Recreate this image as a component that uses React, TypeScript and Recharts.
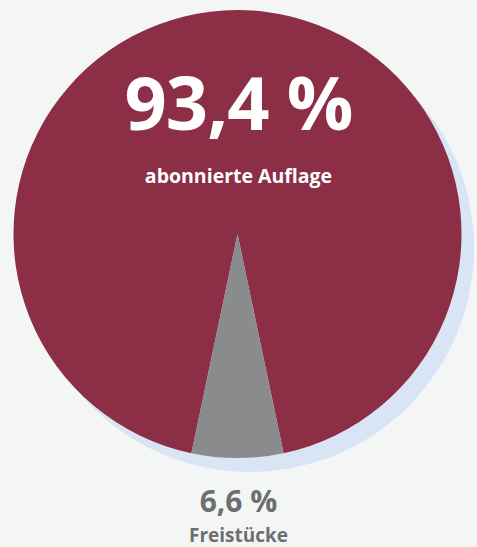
import { PieChart, Pie, Cell } from "recharts"

const categories = ["abonnierte Auflage", "Freistücke"]
const shares = [93.4, 6.6]
const shareLabels = ["93,4 %", "6,6 %"]
const colors = ["#8b2e46", "#8a8b8d"]

const data = categories.map((name, i) => ({ name, value: shares[i] }))
const shadowData = [{ name: "shadow", value: 100 }]

// gray slice centered at the bottom (270deg in recharts angle space)
const halfGray = ((shares[1] / 100) * 360) / 2
const endAngle = 270 + halfGray
const startAngle = endAngle - 360

export default function App() {
  return (
    <div
      style={{
        position: "absolute",
        top: 0,
        left: 0,
        width: 477,
        height: 547,
        background: "#f4f6f6",
        fontFamily: "'Open Sans', sans-serif",
        overflow: "hidden",
      }}
    >
      <PieChart width={477} height={547} margin={{ top: 0, right: 0, bottom: 0, left: 0 }}>
        <Pie
          data={shadowData}
          dataKey="value"
          cx={250}
          cy={248}
          outerRadius={224}
          fill="#d9e4f4"
          stroke="none"
          isAnimationActive={false}
        />
        <Pie
          data={data}
          dataKey="value"
          cx={237.5}
          cy={234}
          outerRadius={224}
          startAngle={startAngle}
          endAngle={endAngle}
          stroke="none"
          isAnimationActive={false}
        >
          {data.map((d, i) => (
            <Cell key={d.name} fill={colors[i]} />
          ))}
        </Pie>
      </PieChart>
      <div
        style={{
          position: "absolute",
          left: 0,
          width: 477,
          top: 57,
          textAlign: "center",
          color: "#fff",
          fontWeight: 700,
          fontSize: 74,
          lineHeight: "90px",
          letterSpacing: -1,
        }}
      >
        {shareLabels[0]}
      </div>
      <div
        style={{
          position: "absolute",
          left: 0,
          width: 477,
          top: 163,
          textAlign: "center",
          color: "#fff",
          fontWeight: 700,
          fontSize: 19.5,
          lineHeight: "26px",
        }}
      >
        {categories[0]}
      </div>
      <div
        style={{
          position: "absolute",
          left: 0,
          width: 477,
          top: 485,
          textAlign: "center",
          color: "#6d6e70",
          fontWeight: 700,
          fontSize: 30,
          lineHeight: "32px",
        }}
      >
        {shareLabels[1]}
      </div>
      <div
        style={{
          position: "absolute",
          left: 0,
          width: 477,
          top: 523,
          textAlign: "center",
          color: "#6d6e70",
          fontWeight: 700,
          fontSize: 19,
          lineHeight: "24px",
        }}
      >
        {categories[1]}
      </div>
    </div>
  )
}
